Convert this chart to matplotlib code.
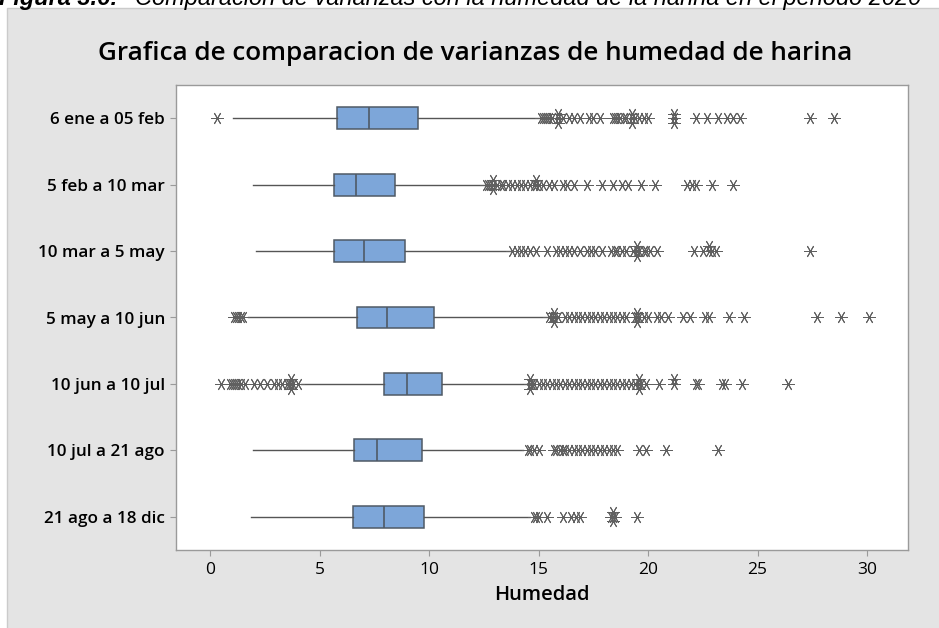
import matplotlib
matplotlib.use("Agg")
import matplotlib.pyplot as plt
from matplotlib.patches import Rectangle
from collections import Counter

# ---------------- data ----------------
categories = ["6 ene a 05 feb", "5 feb a 10 mar", "10 mar a 5 may", "5 may a 10 jun",
              "10 jun a 10 jul", "10 jul a 21 ago", "21 ago a 18 dic"]
whisker_low = [1.04, 1.95, 2.10, 1.73, 4.15, 1.95, 1.87]
q1_values = [5.82, 5.68, 5.68, 6.73, 7.95, 6.59, 6.51]
medians = [7.26, 6.68, 7.05, 8.07, 8.98, 7.64, 7.95]
q3_values = [9.51, 8.46, 8.92, 10.24, 10.57, 9.66, 9.79]
whisker_high = [15.0, 12.5, 13.7, 15.44, 14.46, 14.3, 14.6]

outliers_low = [
    [0.3],
    [],
    [],
    [1.1, 1.2, 1.3, 1.4, 1.5],
    [0.5, 0.9, 1.0, 1.1, 1.2, 1.3, 1.4, 1.6, 2.0, 2.3, 2.6, 2.9, 3.1, 3.3, 3.5,
     3.6, 3.7, 3.7, 3.7, 3.8, 4.0],
    [],
    [],
]
outliers_high = [
    [15.1, 15.2, 15.3, 15.4, 15.5, 15.6, 15.9, 15.9, 15.9, 16.1, 16.4, 16.6, 16.9,
     17.3, 17.5, 17.8, 18.4, 18.5, 18.6, 18.7, 18.9, 19.0, 19.25, 19.25, 19.25,
     19.4, 19.6, 19.8, 20.0, 21.2, 21.2, 21.2, 22.2, 22.7, 23.2, 23.6, 23.9, 24.2,
     27.4, 28.5],
    [12.6, 12.7, 12.8, 12.9, 12.9, 12.9, 13.1, 13.3, 13.4, 13.6, 13.8, 14.0, 14.2,
     14.4, 14.6, 14.8, 14.9, 14.9, 15.0, 15.2, 15.5, 15.7, 16.1, 16.3, 16.6, 17.2,
     17.9, 18.4, 18.8, 19.1, 19.7, 20.3, 21.8, 22.0, 22.2, 22.9, 23.9],
    [13.8, 14.0, 14.2, 14.4, 14.6, 14.9, 15.4, 15.8, 16.0, 16.2, 16.4, 16.6, 16.9,
     17.2, 17.4, 17.6, 17.9, 18.3, 18.5, 18.6, 18.8, 19.0, 19.3, 19.5, 19.5, 19.5,
     19.6, 19.8, 19.9, 20.1, 20.4, 22.1, 22.5, 22.8, 22.8, 22.9, 23.1, 27.4],
    [15.5, 15.6, 15.7, 15.7, 15.7, 15.9, 16.2, 16.4, 16.6, 16.8, 17.0, 17.2, 17.4,
     17.6, 17.8, 18.0, 18.2, 18.4, 18.6, 18.8, 19.0, 19.4, 19.5, 19.5, 19.5, 19.6,
     19.8, 20.0, 20.4, 20.6, 20.9, 21.6, 21.9, 22.6, 22.8, 23.7, 24.4, 27.7, 28.8,
     30.1],
    [14.6, 14.6, 14.6, 14.7, 14.8, 15.0, 15.2, 15.4, 15.6, 15.8, 16.0, 16.2, 16.4,
     16.6, 16.8, 17.0, 17.2, 17.4, 17.6, 17.8, 18.0, 18.2, 18.4, 18.6, 18.8, 19.0,
     19.2, 19.4, 19.6, 19.6, 19.6, 19.7, 19.9, 20.5, 21.2, 21.2, 22.2, 22.3, 23.4,
     23.5, 24.3, 26.4],
    [14.5, 14.6, 14.8, 15.0, 15.7, 15.8, 16.0, 16.1, 16.2, 16.4, 16.6, 16.8, 17.0,
     17.2, 17.4, 17.6, 17.8, 18.0, 18.2, 18.4, 18.6, 19.6, 19.9, 20.8, 23.2],
    [14.8, 14.9, 15.0, 15.4, 16.1, 16.5, 16.7, 16.9, 18.3, 18.4, 18.4, 18.4, 18.5,
     19.5],
]
x_ticks = [0, 5, 10, 15, 20, 25, 30]
title = "Grafica de comparacion de varianzas de humedad de harina"
x_label = "Humedad"
caption_bold = "Figura 3.6:"
caption_rest = "Comparacion de varianzas con la humedad de la harina en el periodo 2020"

# ---------------- figure ----------------
W, H = 939, 628
fig = plt.figure(figsize=(W / 100, H / 100), dpi=100)
fig.patch.set_facecolor("white")
fig.patches.append(Rectangle((7 / W, -0.01), 1 - 7 / W + 0.01, 1 - 8 / H + 0.01,
                             transform=fig.transFigure, facecolor="#e4e4e4",
                             edgecolor="#cbcbcb", lw=1.0, zorder=-5))

ax = fig.add_axes([176 / W, (H - 550) / H, (908 - 176) / W, (550 - 85) / H])
ax.set_zorder(2)
ax.set_facecolor("white")

n = len(categories)
positions = list(range(n, 0, -1))
stats = []
for i in range(n):
    stats.append(dict(label=categories[i], whislo=whisker_low[i], q1=q1_values[i],
                      med=medians[i], q3=q3_values[i], whishi=whisker_high[i],
                      fliers=[]))

ax.bxp(stats, positions=positions, widths=0.33, orientation="horizontal",
       patch_artist=True, showfliers=False, showcaps=False,
       boxprops=dict(facecolor="#7da6d9", edgecolor="#4f5a66", linewidth=1.1),
       medianprops=dict(color="#4f5a66", linewidth=1.2),
       whiskerprops=dict(color="#555555", linewidth=1.0))

for i in range(n):
    vals = outliers_low[i] + outliers_high[i]
    seen = Counter()
    ys = []
    for v in vals:
        k = seen[v]
        seen[v] += 1
        off = 0.0 if k == 0 else (0.07 * ((k + 1) // 2)) * (1 if k % 2 else -1)
        ys.append(positions[i] + off)
    ax.plot(vals, ys, linestyle="none", marker=(6, 2, 30), markersize=9,
            markeredgewidth=0.7, color="#606060", zorder=3)

ax.set_xlim(-1.553, 31.87)
ax.set_ylim(0.5, 7.5)
ax.set_xticks(x_ticks)
ax.set_xticklabels([str(t) for t in x_ticks], fontsize=12.5, family="Open Sans")
ax.set_yticks(positions)
ax.set_yticklabels(categories, fontsize=12.3, family="Open Sans", fontweight="semibold")
ax.tick_params(axis="both", colors="#9a9a9a", length=4, width=0.8, labelcolor="black")
ax.tick_params(axis="x", pad=5)
ax.tick_params(axis="y", pad=4)
for s in ax.spines.values():
    s.set_color("#9a9a9a")
    s.set_linewidth(1.0)

ax.set_xlabel(x_label, fontsize=14.5, family="Open Sans", fontweight="semibold", labelpad=5)

renderer = fig.canvas.get_renderer()

# title fitted to its width in the reference
t = fig.text(475 / W, 1 - 60 / H, title, ha="center", va="baseline",
             fontsize=17, family="Open Sans", fontweight="semibold")
w = t.get_window_extent(renderer).width
t.set_fontsize(17 * 756 / w)

# caption, cut off by the top edge as in the reference
c2 = fig.text(135 / W, 1 - 5 / H, caption_rest, ha="left", va="baseline",
              fontsize=15, family="Liberation Sans", style="italic")
w2 = c2.get_window_extent(renderer).width
fs = 15 * 784 / w2
c2.set_fontsize(fs)
fig.text(118 / W, 1 - 5 / H, caption_bold, ha="right", va="baseline",
         fontsize=fs, family="Liberation Sans", style="italic", fontweight="bold")

fig.savefig("out.png", dpi=100)
